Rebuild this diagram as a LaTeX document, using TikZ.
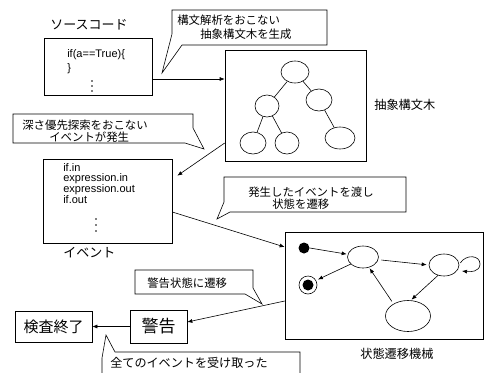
\documentclass[tikz,border=0pt]{standalone}
\usepackage{fontspec}
\setmainfont{Liberation Sans}
\newfontfamily\jp{Noto Sans CJK JP}
\usetikzlibrary{arrows.meta,shapes.geometric,calc}
\begin{document}
\begin{tikzpicture}[x=1pt,y=-1pt,line width=0.6pt,
  arr/.style={-{Latex[length=5pt,width=4pt]}},
  box/.style={draw,rectangle,inner sep=0pt},
  callout/.style={draw,line join=miter},
  cotext/.style={font=\jp\fontsize{11.4}{12.5}\selectfont,inner sep=0pt,anchor=west},
  lbl/.style={font=\jp\fontsize{12.2}{14}\selectfont,inner sep=0pt},
  code/.style={font=\fontsize{11}{12}\selectfont,inner sep=0pt,anchor=west},
  vdot/.style={fill,circle,inner sep=0pt,minimum size=1.7pt},
  tnode/.style={draw,ellipse,inner sep=0pt,minimum height=22pt},
  snode/.style={draw,ellipse,inner sep=0pt}]
\useasboundingbox (0,0) rectangle (484,372);

% ---- source code ----
\node[lbl,font=\jp\fontsize{13}{15}\selectfont,anchor=west] (srclbl) at (50,25) {ソースコード};
\node[box,minimum width=108pt,minimum height=57pt] (src) at (98,66.5) {};
\node[code] (srcl1) at (67,55) {if(a==True)\{};
\node[code] (srcl2) at (67,69) {\}};
\node[vdot] (sd1) at (92,81) {};
\node[vdot] (sd2) at (92,86) {};
\node[vdot] (sd3) at (92,91) {};

% ---- callout 1 ----
\draw[callout] (172,10) -- (327,10) -- (327,45) -- (182,45) -- (162,73) -- (172,34) -- cycle;
\node[cotext] (c1a) at (177,20) {構文解析をおこない};
\node[cotext] (c1b) at (200,34) {抽象構文木を生成};

% ---- tree ----
\node[box,minimum width=141pt,minimum height=111pt] (tree) at (295.5,105.5) {};
\node[tnode,minimum width=28pt] (root) at (295,72) {};
\node[tnode,minimum width=24pt] (tl) at (267,106) {};
\node[tnode,minimum width=26pt] (tr) at (319,100) {};
\node[tnode,minimum width=26pt] (tll) at (253,143) {};
\node[tnode,minimum width=24pt] (tlr) at (287,143) {};
\node[tnode,minimum width=30pt] (trr) at (340,138) {};
\draw (root) -- (tl);
\draw (root) -- (tr);
\draw (tl) -- (tll);
\draw (tl) -- (tlr);
\draw (tr) -- (trr);
\node[lbl,anchor=west] (treelbl) at (374,105) {抽象構文木};

\draw[arr] (src.east |- 0,79) -- (tree.west |- 0,79);

% ---- callout 2 ----
\draw[callout] (13,114) -- (193,114) -- (193,128) -- (204,149) -- (185,143) -- (13,143) -- cycle;
\node[cotext] (c2a) at (22,125) {深さ優先探索をおこない};
\node[cotext] (c2b) at (49,137) {イベントが発生};

% ---- events ----
\node[box,minimum width=129pt,minimum height=84pt] (ev) at (107.5,201) {};
\node[code] (ev1) at (63,168) {if.in};
\node[code] (ev2) at (63,179) {expression.in};
\node[code] (ev3) at (63,189.5) {expression.out};
\node[code] (ev4) at (63,200) {if.out};
\node[vdot] (ed1) at (96,219) {};
\node[vdot] (ed2) at (96,225) {};
\node[vdot] (ed3) at (96,231) {};
\node[lbl,font=\jp\fontsize{13}{15}\selectfont,anchor=west] (evlbl) at (63,253) {イベント};

\coordinate (evtip) at ($(ev.north east)+(5,17)$);
\draw[arr] (tree.west |- 0,143) -- (evtip);

% ---- callout 3 ----
\draw[callout] (224,177) -- (406,177) -- (406,212) -- (230,212) -- (217,219) -- (224,202) -- cycle;
\node[cotext] (c3a) at (248,192) {発生したイベントを渡し};
\node[cotext] (c3b) at (272,204) {状態を遷移};

% ---- state machine ----
\node[box,minimum width=198pt,minimum height=107pt] (sm) at (384,285.5) {};
\node[circle,fill,inner sep=0pt,minimum size=11pt] (init) at (304,248) {};
\node[circle,draw,inner sep=0pt,minimum size=18pt,
  path picture={\fill (path picture bounding box.center) circle (5.5pt);}] (final) at (308,285) {};
\node[snode,minimum width=31pt,minimum height=22pt] (s1) at (363,257) {};
\node[snode,minimum width=30pt,minimum height=22pt] (s2) at (444,265) {};
\node[snode,minimum width=45pt,minimum height=31pt] (s3) at (408,316) {};
\draw[arr,shorten >=1pt] (init.0) -- (s1.170);
\draw[arr,shorten >=2pt] (s1.210) -- (final.30);
\draw[arr,shorten <=3pt,shorten >=2pt] (s1.-10) -- (s2.180);
\draw[arr,shorten >=1pt] (s2.240) -- (s3.80);
\draw[arr,shorten <=3pt,shorten >=1pt] (s3.140) -- (s1.300);
\draw[arr] ([shift={(1,-2)}]s2.east) .. controls (466,254) and (480,255) .. (480,264)
   .. controls (480,272) and (470,272) .. (462,271);
\node[lbl,anchor=west] (smlbl) at (360,354) {状態遷移機械};

\draw[arr] (ev.east |- 0,212) -- (sm.west |- 0,247);

% ---- callout 4 ----
\draw[callout] (135,270) -- (253,270) -- (253,288) -- (262,304) -- (245,294) -- (135,294) -- cycle;
\node[cotext] (c4) at (147,283) {警告状態に遷移};

% ---- warning / end ----
\node[box,minimum width=57pt,minimum height=33pt,font=\jp\fontsize{17}{19}\selectfont] (warn) at (158.5,326.5) {警告};
\node[box,minimum width=77pt,minimum height=31pt,font=\jp\fontsize{15}{17}\selectfont] (fin) at (53.5,326.5) {検査終了};
\draw[arr] (sm.west |- 0,301) -- (warn.east |- 0,322);
\draw[arr] (warn.west) -- (fin.east);

% ---- callout 5 ----
\draw[callout] (102,373) -- (102,358) -- (106,335) -- (115,352) -- (300,352) -- (300,373);
\node[cotext,font=\jp\fontsize{12.1}{14}\selectfont] (c5) at (110,363) {全てのイベントを受け取った};
\end{tikzpicture}
\end{document}
